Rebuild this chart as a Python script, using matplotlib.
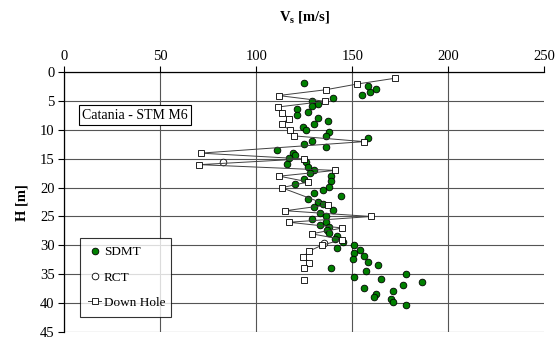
import numpy as np
import matplotlib
matplotlib.use("Agg")
import matplotlib.pyplot as plt

plt.rcParams["font.family"] = ["Liberation Serif", "DejaVu Serif"]
plt.rcParams["mathtext.fontset"] = "custom"
plt.rcParams["mathtext.rm"] = "Liberation Serif:bold"
plt.rcParams["mathtext.it"] = "Liberation Serif:bold"
plt.rcParams["mathtext.bf"] = "Liberation Serif:bold"

# ---- data ----
# SDMT: Vs [m/s] and depth H [m]
sdmt_vs = [125.1, 162.3, 159.2, 158.2, 155.2, 140.1, 129.2, 132.1, 129.2, 121.2,
           127.1, 121.2, 132.1, 137.3, 130.1, 124.2, 126.0, 138.0, 136.1, 158.2,
           129.2, 125.0, 136.1, 111.0, 118.9, 120.2, 117.0, 126.1, 116.1, 127.1,
           130.1, 128.0, 138.9, 125.1, 138.9, 120.2, 138.0, 135.0, 130.1, 144.1,
           127.1, 132.1, 135.0, 130.1, 140.1, 133.2, 136.1, 129.0, 136.1, 133.2,
           138.0, 137.0, 138.0, 142.2, 141.1, 145.0, 151.0, 142.2, 154.2, 151.0,
           156.3, 150.2, 158.2, 163.2, 138.9, 157.1, 178.1, 151.0, 165.1, 186.3,
           176.3, 156.1, 171.2, 162.2, 161.3, 170.2, 171.2, 178.1]
sdmt_h = [1.9, 2.9, 3.4, 2.3, 3.9, 4.4, 4.9, 5.4, 5.9, 6.4,
          6.9, 7.4, 7.9, 8.4, 8.9, 9.4, 9.9, 10.4, 11.0, 11.4,
          11.9, 12.4, 12.9, 13.4, 13.9, 14.4, 14.9, 15.5, 15.9, 16.4,
          16.9, 17.4, 17.9, 18.5, 18.9, 19.4, 19.9, 20.4, 20.9, 21.4,
          21.9, 22.4, 22.9, 23.4, 23.9, 24.4, 24.9, 25.4, 25.9, 26.4,
          26.9, 27.4, 27.9, 28.4, 28.9, 29.4, 29.9, 30.4, 30.9, 31.4,
          31.9, 32.4, 32.9, 33.4, 33.9, 34.4, 34.9, 35.5, 35.9, 36.4,
          36.9, 37.4, 37.9, 38.4, 38.9, 39.4, 39.9, 40.4]

# RCT
rct_vs = [82.5, 135.4]
rct_h = [15.5, 29.6]

# Down Hole (nan = no value, breaks the line)
dh_vs = [172.2, 152.6, 136.1, 111.6, 135.8, 111.1, 113.4, 117.0, 113.2, 117.4,
         119.5, 156.1, 71.0, 124.8, 70.4, 141.0, 112.0, 127.1, 113.2, 137.2,
         115.2, 159.7, 117.1, 144.8, 128.8, 144.8, 134.1, 127.6, 124.5, 127.6,
         124.7, np.nan, 124.8]
dh_h = [1, 2, 3, 4, 5, 6, 7, 8, 9, 10,
        11, 12, 14, 15, 16, 17, 18, 19, 20, 23,
        24, 25, 26, 27, 28, 29, 30, 31, 32, 33,
        34, 35, 36]

xticks = [0, 50, 100, 150, 200, 250]
yticks = [0, 5, 10, 15, 20, 25, 30, 35, 40, 45]

# ---- plot ----
fig = plt.figure(figsize=(5.57, 3.41), dpi=100)
ax = fig.add_axes([0.1154, 0.0273, 0.8617, 0.7601])

ax.plot(sdmt_vs, sdmt_h, ls="none", marker="o", ms=4.8, mfc="#008000",
        mec="black", mew=0.6, label="SDMT", zorder=3)
ax.plot(rct_vs, rct_h, ls="none", marker="o", ms=4.8, mfc="white",
        mec="black", mew=0.6, label="RCT", zorder=4)
ax.plot(dh_vs, dh_h, ls="-", color="#404040", lw=0.7, marker="s", ms=4.6,
        mfc="white", mec="black", mew=0.6, label="Down Hole", zorder=5)

ax.set_xlim(0, 250)
ax.set_ylim(45, 0)
ax.set_xticks(xticks)
ax.set_yticks(yticks)
ax.xaxis.tick_top()
ax.xaxis.set_label_position("top")
ax.tick_params(axis="both", direction="out", length=4, width=0.8,
               labelsize=10.5, pad=3)

ax.grid(True, color="#555555", lw=0.8)
ax.get_xgridlines()[-1].set_visible(False)
ax.set_axisbelow(True)
for side in ["right", "bottom"]:
    ax.spines[side].set_visible(False)
for side in ["left", "top"]:
    ax.spines[side].set_linewidth(0.9)

ax.set_xlabel(r"$\mathrm{V_s}$ [m/s]", fontsize=10.5, fontweight="bold",
              labelpad=21)
ax.set_ylabel("H [m]", fontsize=10.5, fontweight="bold", labelpad=8)

ax.text(0.147, 0.835, "Catania - STM M6", transform=ax.transAxes,
        ha="center", va="center", fontsize=10,
        bbox=dict(boxstyle="square,pad=0.25", fc="white", ec="black", lw=0.8))

leg = ax.legend(loc="lower left", bbox_to_anchor=(0.033, 0.057, 0.19, 0.295),
                mode="expand", frameon=True, fancybox=False, fontsize=9.5,
                handlelength=1.0, handletextpad=0.2, labelspacing=1.0,
                borderpad=0.6, borderaxespad=0)
leg.get_frame().set_edgecolor("black")
leg.get_frame().set_linewidth(0.8)

fig.savefig("out.png", dpi=100)
